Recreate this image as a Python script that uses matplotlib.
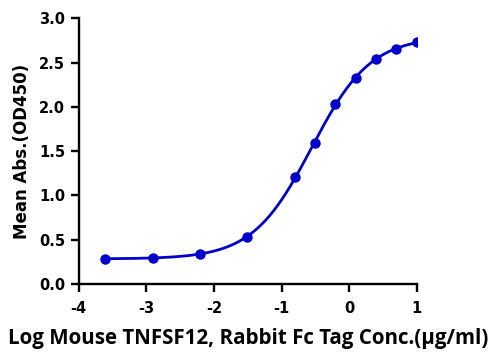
import matplotlib
matplotlib.use("Agg")
import matplotlib.pyplot as plt
import numpy as np

plt.rcParams["axes.unicode_minus"] = False
plt.rcParams["font.family"] = "DejaVu Sans"
plt.rcParams["font.weight"] = "bold"

# log10 concentration (ug/ml) and mean absorbance
log_conc = [-3.602, -2.903, -2.204, -1.505, -0.806, -0.505, -0.204, 0.097, 0.398, 0.699, 1.0]
od450 = [0.286, 0.297, 0.342, 0.531, 1.204, 1.592, 2.036, 2.326, 2.544, 2.657, 2.729]
x_ticks = [-4, -3, -2, -1, 0, 1]
y_ticks = [0.0, 0.5, 1.0, 1.5, 2.0, 2.5, 3.0]
blue = "#0000CC"

x = np.array(log_conc)
y = np.array(od450)


def four_pl(p, xx):
    bottom, top, logec50, hill = p
    return bottom + (top - bottom) / (1 + 10 ** ((logec50 - xx) * hill))


# quick Gauss-Newton fit of the 4PL curve (damped)
p = np.array([y.min(), y.max(), -0.6, 1.0])
for _ in range(200):
    r = y - four_pl(p, x)
    J = np.zeros((len(x), 4))
    for k in range(4):
        dp = np.zeros(4)
        dp[k] = 1e-6
        J[:, k] = (four_pl(p + dp, x) - four_pl(p - dp, x)) / 2e-6
    step = np.linalg.lstsq(J.T @ J + 1e-3 * np.eye(4), J.T @ r, rcond=None)[0]
    p = p + step

xs = np.linspace(min(log_conc), max(log_conc), 400)

fig = plt.figure(figsize=(4.91, 3.52), dpi=100)
ax = fig.add_axes([0.160, 0.193, 0.689, 0.755])
ax.plot(xs, four_pl(p, xs), color=blue, lw=2.0)
ax.plot(log_conc, od450, "o", color=blue, ms=6.5, mec=blue)

ax.set_xlim(-4, 1)
ax.set_ylim(0, 3)
ax.set_xticks(x_ticks)
ax.set_xticklabels([str(v) for v in x_ticks], fontsize=10.5, fontweight="bold")
ax.set_yticks(y_ticks)
ax.set_yticklabels([f"{v:.1f}" for v in y_ticks], fontsize=10.5, fontweight="bold")
for s in ["top", "right"]:
    ax.spines[s].set_visible(False)
for s in ["left", "bottom"]:
    ax.spines[s].set_linewidth(1.7)
ax.tick_params(width=1.7, length=5.5, pad=4)
ax.tick_params(axis="x", pad=7)

ax.set_ylabel("Mean Abs.(OD450)", fontsize=12, fontweight="bold", labelpad=6)
ax.set_xlabel("Log Mouse TNFSF12, Rabbit Fc Tag Conc.(\u03bcg/ml)", fontsize=14.8,
              fontweight="bold", family=["Open Sans", "DejaVu Sans"], labelpad=8)

fig.savefig("out.png", dpi=100)
